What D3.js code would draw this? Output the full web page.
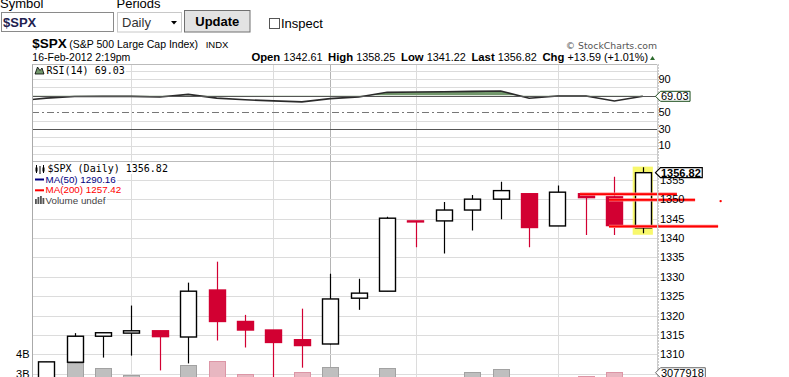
<!DOCTYPE html>
<html lang="en">
<head>
<meta charset="utf-8">
<title>$SPX Daily</title>
<script src="https://d3js.org/d3.v7.min.js"></script>
<style>
  body { margin: 0; background: #fff; }
  svg { display: block; font-family: "Liberation Sans", Arial, sans-serif; }
</style>
</head>
<body>
<script>
// daily bars, 18-Jan-2012 .. 16-Feb-2012
var dates = ['2012-01-18','2012-01-19','2012-01-20','2012-01-23','2012-01-24','2012-01-25','2012-01-26','2012-01-27',
  '2012-01-30','2012-01-31','2012-02-01','2012-02-02','2012-02-03','2012-02-06','2012-02-07','2012-02-08',
  '2012-02-09','2012-02-10','2012-02-13','2012-02-14','2012-02-15','2012-02-16'];
var opens  = [1294.0, 1308.0, 1314.7, 1315.5, 1316.1, 1314.5, 1326.6, 1318.5, 1316.3, 1313.8, 1312.7,
  1324.5, 1326.3, 1344.4, 1344.4, 1347.2, 1350.0, 1351.4, 1343.1, 1351.4, 1350.6, 1342.61];
var highs  = [1308.1, 1315.5, 1315.6, 1322.6, 1316.1, 1328.5, 1333.9, 1320.2, 1316.3, 1321.8, 1330.8,
  1329.5, 1345.5, 1344.4, 1349.3, 1351.1, 1354.5, 1351.4, 1353.5, 1351.4, 1355.8, 1358.25];
var lows   = [1291.0, 1307.9, 1309.2, 1309.7, 1305.9, 1307.7, 1313.6, 1311.8, 1300.5, 1306.6, 1312.6,
  1321.5, 1326.3, 1337.6, 1336.0, 1341.9, 1344.8, 1337.6, 1343.1, 1340.8, 1340.8, 1341.22];
var closes = [1308.1, 1314.7, 1315.6, 1316.1, 1314.6, 1326.3, 1318.5, 1316.3, 1313.1, 1312.3, 1324.3,
  1325.8, 1345.1, 1344.2, 1347.2, 1350.0, 1352.2, 1342.7, 1351.8, 1350.4, 1343.2, 1356.82];
var volumes = [3.25, 3.55, 3.30, 2.95, 2.70, 3.45, 3.67, 3.00, 2.70, 3.10, 3.35,
  2.60, 3.30, 2.50, 2.60, 3.10, 3.25, 2.70, 2.60, 2.92, 3.10, 3.077918]; // billions
var rsi = [66.9, 68.8, 68.9, 69.0, 68.2, 71.4, 66.8, 64.9, 63.5, 62.3, 66.2,
  68.3, 73.8, 74.2, 74.5, 74.9, 75.4, 66.7, 69.4, 69.4, 63.5, 69.03];
var rsiPrev = 63.5; // day before the first bar, only its segment shows

var priceTicks = [1355, 1350, 1345, 1340, 1335, 1330, 1325, 1320, 1315, 1310];
var priceGrid = [1355, 1350, 1345, 1340, 1335, 1330, 1325, 1320, 1315, 1310, 1305];
var rsiTicks = [90, 50, 30, 10];
var rsiGrid = [100, 90, 80, 60, 40, 20, 10, 0];
var volTicks = [4, 3];

// hand drawn red lines: bar-index span and price level
var markFrom  = [18.79, 19.81, 19.81];
var markTo    = [22.2, 22.84, 23.65];
var markPrice = [1351.3, 1349.8, 1343.0];

var header = {open: '1342.61', high: '1358.25', low: '1341.22', last: '1356.82', chg: '+13.59 (+1.01%)'};

var W = 789, H = 377;
var left = 32, right = 657;
var rsiTop = 64.5, rsiBot = 161.5, priceTop = 161.5;

var svg = d3.select('body').append('svg').attr('width', W).attr('height', H);

// ---------- form strip ----------
var form = svg.append('g').style('font-size', '13px');
form.append('text').attr('x', 0).attr('y', 8).text('Symbol');
form.append('text').attr('x', 116.5).attr('y', 8).text('Periods');
form.append('rect').attr('x', 1.5).attr('y', 12.5).attr('width', 112).attr('height', 19)
  .attr('fill', '#fff').attr('stroke', '#8a8a8a');
form.append('text').attr('x', 3).attr('y', 27).attr('font-weight', 'bold').attr('fill', '#222250').text('$SPX');
form.append('rect').attr('x', 117.5).attr('y', 12.5).attr('width', 64).attr('height', 19.5)
  .attr('fill', '#fff').attr('stroke', '#c8c8c8');
form.append('text').attr('x', 122).attr('y', 27).attr('fill', '#333').text('Daily');
form.append('path').attr('d', 'M171,21 L177,21 L174,24.5 Z').attr('fill', '#000');
form.append('rect').attr('x', 184.5).attr('y', 10.5).attr('width', 65.5).attr('height', 21.5)
  .attr('fill', '#e3e3e3').attr('stroke', '#707070');
form.append('text').attr('x', 217.3).attr('y', 26).attr('text-anchor', 'middle')
  .attr('font-weight', 'bold').text('Update');
form.append('rect').attr('x', 269.5).attr('y', 18.5).attr('width', 10).attr('height', 10)
  .attr('fill', '#fff').attr('stroke', '#555');
form.append('text').attr('x', 281).attr('y', 28.3).text('Inspect');

// ---------- title rows ----------
var ttl = svg.append('g');
ttl.append('text').attr('x', 32.3).attr('y', 47.5).attr('font-weight', 'bold').style('font-size', '13.5px').text('$SPX');
ttl.append('text').attr('x', 69.3).attr('y', 47.5).style('font-size', '10.5px').text('(S&P 500 Large Cap Index)');
ttl.append('text').attr('x', 205.7).attr('y', 47.5).style('font-size', '9.5px').text('INDX');
ttl.append('text').attr('x', 657).attr('y', 48.5).attr('text-anchor', 'end')
  .attr('fill', '#555').style('font-family', '"DejaVu Sans", sans-serif').style('font-size', '9.3px')
  .text('\u00A9 StockCharts.com');
ttl.append('text').attr('x', 32.3).attr('y', 61).style('font-size', '10.5px').text('16-Feb-2012 2:19pm');

var ohlc = ttl.append('text').attr('x', 648).attr('y', 61).attr('text-anchor', 'end').style('font-size', '10.8px');
[['Open', header.open], ['High', header.high], ['Low', header.low], ['Last', header.last], ['Chg', header.chg]]
  .forEach(function(p, i) {
    ohlc.append('tspan').attr('font-weight', 'bold').style('font-size', '11.3px').text((i ? '\u2002' : '') + p[0] + ' ');
    ohlc.append('tspan').text(p[1]);
  });
ttl.append('path').attr('d', 'M650,60 L655,60 L652.5,56 Z').attr('fill', '#2e6b2e');

// ---------- scales ----------
var x = d3.scaleBand().domain(dates).range([left, right]).paddingInner(0.43).paddingOuter(0.215);
var step = x.step(), bw = x.bandwidth();
function cx(i) { return x(dates[i]) + bw / 2; }
function cxAt(k) { return cx(0) + k * step; }

var yR = d3.scaleLinear().domain([-9.2, 107.2]).range([rsiBot, rsiTop]);
var yP = d3.scaleLinear().domain([1304.2, 1359.7]).range([377, priceTop]);
var yV = d3.scaleLinear().domain([0, 4]).range([434.3, 354.3]);

var defs = svg.append('defs');
defs.append('clipPath').attr('id', 'rsiClip').append('rect')
  .attr('x', left).attr('y', rsiTop).attr('width', right - left).attr('height', rsiBot - rsiTop);
defs.append('clipPath').attr('id', 'above70').append('rect')
  .attr('x', left).attr('y', rsiTop).attr('width', right - left).attr('height', yR(70) - rsiTop);
defs.append('clipPath').attr('id', 'priceClip').append('rect')
  .attr('x', left).attr('y', priceTop).attr('width', right - left).attr('height', H - priceTop);

// ---------- grids ----------
var grid = svg.append('g');
function vColor(d, i) {
  var dt = new Date(d + 'T00:00'), prev = i ? new Date(dates[i - 1] + 'T00:00') : null;
  if (prev && dt.getMonth() !== prev.getMonth()) return '#b4b4b4';
  if (dt.getDay() === 1) return '#dcdcdc';
  return null;
}
dates.forEach(function(d, i) {
  var c = vColor(d, i);
  if (!c) return;
  grid.append('line').attr('x1', Math.round(cx(i)) + 0.5).attr('x2', Math.round(cx(i)) + 0.5)
    .attr('y1', rsiTop).attr('y2', H).attr('stroke', c);
});
grid.selectAll('.rg').data(rsiGrid).enter().append('line')
  .attr('x1', left).attr('x2', right)
  .attr('y1', function(d) { return Math.round(yR(d)) + 0.5; })
  .attr('y2', function(d) { return Math.round(yR(d)) + 0.5; })
  .attr('stroke', '#dcdcdc');
grid.selectAll('.pg').data(priceGrid).enter().append('line')
  .attr('x1', left).attr('x2', right)
  .attr('y1', function(d) { return Math.round(yP(d)) + 0.5; })
  .attr('y2', function(d) { return Math.round(yP(d)) + 0.5; })
  .attr('stroke', '#dcdcdc');

// ---------- RSI panel ----------
var rsiPts = [[cx(0) - step, rsiPrev]].concat(rsi.map(function(v, i) { return [cx(i), v]; }));
var rg = svg.append('g').attr('clip-path', 'url(#rsiClip)');
rg.append('path').datum(rsiPts)
  .attr('clip-path', 'url(#above70)')
  .attr('fill', '#73986c')
  .attr('d', d3.area().x(function(d) { return d[0]; }).y0(yR(70)).y1(function(d) { return yR(d[1]); }));
[70, 30].forEach(function(v) {
  svg.append('line').attr('x1', left).attr('x2', right)
    .attr('y1', Math.round(yR(v)) + 0.5).attr('y2', Math.round(yR(v)) + 0.5).attr('stroke', '#555');
});
svg.append('line').attr('x1', left).attr('x2', right)
  .attr('y1', Math.round(yR(50)) + 0.5).attr('y2', Math.round(yR(50)) + 0.5)
  .attr('stroke', '#777').attr('stroke-dasharray', '7,3,2,3');
rg.append('path').datum(rsiPts)
  .attr('fill', 'none').attr('stroke', '#2a2a2a').attr('stroke-width', 1.6)
  .attr('d', d3.line().x(function(d) { return d[0]; }).y(function(d) { return yR(d[1]); }));

// ---------- price panel ----------
var pg = svg.append('g').attr('clip-path', 'url(#priceClip)');
var red = '#d20032';
function isDown(i) { return closes[i] < opens[i]; }

// volume overlay (today's partial bar is not drawn)
pg.selectAll('.vol').data(volumes.slice(0, -1)).enter().append('rect')
  .attr('x', function(d, i) { return Math.round(x(dates[i])) + 0.5; })
  .attr('width', Math.round(bw))
  .attr('y', function(d) { return Math.round(yV(d)) + 0.5; })
  .attr('height', function(d) { return yV(0) - yV(d); })
  .attr('fill', function(d, i) { return isDown(i) ? '#e8b7c1' : '#bfbfbf'; })
  .attr('stroke', function(d, i) { return isDown(i) ? '#dc96a6' : '#a2a2a2'; });

// highlight of the current bar
var last = dates.length - 1;
pg.append('rect')
  .attr('x', x(dates[last]) - 2).attr('width', bw + 4)
  .attr('y', yP(highs[last]) - 0.5).attr('height', yP(lows[last]) - yP(highs[last]) + 2)
  .attr('fill', '#f8f86c');

var bars = pg.selectAll('.bar').data(dates).enter().append('g');
bars.append('line')
  .attr('x1', function(d, i) { return Math.round(cx(i)) + 0.5; })
  .attr('x2', function(d, i) { return Math.round(cx(i)) + 0.5; })
  .attr('y1', function(d, i) { return yP(highs[i]); })
  .attr('y2', function(d, i) { return yP(lows[i]); })
  .attr('stroke', function(d, i) { return isDown(i) ? red : '#000'; })
  .attr('stroke-width', 1.2);
bars.append('rect')
  .attr('x', function(d, i) { return Math.round(x(d)) + 0.5; })
  .attr('width', Math.round(bw))
  .attr('y', function(d, i) { return yP(Math.max(opens[i], closes[i])); })
  .attr('height', function(d, i) { return Math.max(1, Math.abs(yP(opens[i]) - yP(closes[i]))); })
  .attr('fill', function(d, i) { return isDown(i) ? red : '#fff'; })
  .attr('stroke', function(d, i) { return isDown(i) ? red : '#000'; })
  .attr('stroke-width', 1.4);

// user drawn lines (run past the plot)
markPrice.forEach(function(p, i) {
  var g = svg.append('g');
  g.append('line').attr('x1', cxAt(markFrom[i])).attr('x2', cxAt(markTo[i]))
    .attr('y1', yP(p)).attr('y2', yP(p)).attr('stroke', '#ff8080').attr('stroke-width', 3.2);
  g.append('line').attr('x1', cxAt(markFrom[i])).attr('x2', cxAt(markTo[i]))
    .attr('y1', yP(p)).attr('y2', yP(p)).attr('stroke', '#f00').attr('stroke-width', 1.8);
});
svg.append('circle').attr('cx', cxAt(23.74)).attr('cy', yP(1349.5)).attr('r', 1.2).attr('fill', '#f00');

// ---------- frames & axes ----------
svg.append('line').attr('x1', left).attr('x2', right).attr('y1', rsiTop).attr('y2', rsiTop).attr('stroke', '#bbb');
svg.append('line').attr('x1', left).attr('x2', right).attr('y1', priceTop).attr('y2', priceTop).attr('stroke', '#bbb');
svg.append('line').attr('x1', left + 0.5).attr('x2', left + 0.5).attr('y1', rsiTop).attr('y2', H).attr('stroke', '#aaa');
svg.append('line').attr('x1', right + 0.5).attr('x2', right + 0.5).attr('y1', rsiTop).attr('y2', H).attr('stroke', '#ccc');
svg.append('line').attr('x1', right + 1.5).attr('x2', right + 1.5).attr('y1', rsiTop).attr('y2', H)
  .attr('stroke', '#999').attr('stroke-dasharray', '1,2');

var ax = svg.append('g').style('font-size', '11px');
ax.selectAll('.pt').data(priceTicks).enter().append('text')
  .attr('x', 660).attr('y', function(d) { return yP(d); }).attr('dy', '0.36em').text(function(d) { return d; });
ax.selectAll('.rt').data(rsiTicks).enter().append('text')
  .attr('x', 658.5).attr('y', function(d) { return yR(d); }).attr('dy', '0.36em').text(function(d) { return d; });
ax.selectAll('.vt').data(volTicks).enter().append('text')
  .attr('x', 29.5).attr('y', function(d) { return yV(d); }).attr('dy', '0.36em')
  .attr('text-anchor', 'end').text(function(d) { return d + 'B'; });

// value tags on the right
function tag(yc, txt, opt) {
  var g = svg.append('g');
  var t = g.append('text').attr('x', 661).attr('y', yc).attr('dy', '0.36em')
    .style('font-size', '11px').attr('font-weight', opt.bold ? 'bold' : null).text(txt);
  var w = t.node().getBBox().width + 2;
  g.insert('path', 'text')
    .attr('d', 'M655.5,' + yc + ' L660.5,' + (yc - 5) + ' H' + (660.5 + w) + ' V' + (yc + 5) + ' H660.5 Z')
    .attr('fill', '#fff').attr('stroke', opt.stroke).attr('stroke-width', opt.sw || 1);
}
tag(yR(rsi[last]), d3.format('.2f')(rsi[last]), {stroke: '#1b4d1b'});
tag(yP(closes[last]), d3.format('.2f')(closes[last]), {stroke: '#000', bold: true, sw: 1.2});
tag(yV(volumes[last]), d3.format('d')(volumes[last] * 1e6), {stroke: '#666'});

// ---------- legends ----------
function legendLine(g, xx, yy, txt, color, font, size) {
  var t = g.append('text').attr('x', xx).attr('y', yy).attr('fill', color)
    .style('font-family', font).style('font-size', size).text(txt);
  var b = t.node().getBBox();
  g.insert('rect', 'text').attr('x', left + 1).attr('y', b.y).attr('width', b.x + b.width - left).attr('height', b.height)
    .attr('fill', '#fff');
}
var mono = '"DejaVu Sans Mono", monospace', sans = '"Liberation Sans", Arial, sans-serif';
var lr = svg.append('g');
legendLine(lr, 46.5, 74, 'RSI(14) ' + d3.format('.2f')(rsi[last]), '#000', mono, '10px');
lr.append('path').attr('d', 'M35,74 L37.5,67 L40,70.5 L42,68 L44,74 Z').attr('fill', '#73986c').attr('stroke', '#000').attr('stroke-width', 0.8);

var lp = svg.append('g');
legendLine(lp, 47.5, 172, '$SPX (Daily) ' + d3.format('.2f')(closes[last]), '#000', mono, '10px');
legendLine(lp, 45.5, 182.5, 'MA(50) 1290.16', '#000080', sans, '9.8px');
legendLine(lp, 45.5, 193.3, 'MA(200) 1257.42', '#ff0000', sans, '9.8px');
legendLine(lp, 45.5, 203.5, 'Volume undef', '#444', sans, '9.8px');
// icons
lp.append('path').attr('d', 'M36.5,165 V173 M40,166 V174 M43.5,165 V173').attr('stroke', '#000');
lp.append('rect').attr('x', 35.5).attr('y', 167.5).attr('width', 2).attr('height', 4).attr('fill', '#000');
lp.append('rect').attr('x', 42.5).attr('y', 167.5).attr('width', 2).attr('height', 4).attr('fill', '#000');
lp.append('rect').attr('x', 35).attr('y', 178.5).attr('width', 9).attr('height', 2).attr('fill', '#000080');
lp.append('rect').attr('x', 35).attr('y', 189.3).attr('width', 9).attr('height', 2).attr('fill', '#ff0000');
[[35, 199, 5], [37.5, 197, 7], [40, 196, 8], [42.5, 198, 6]].forEach(function(b) {
  lp.append('rect').attr('x', b[0]).attr('y', b[1]).attr('width', 1.8).attr('height', b[2]).attr('fill', '#555');
});
</script>
</body>
</html>
